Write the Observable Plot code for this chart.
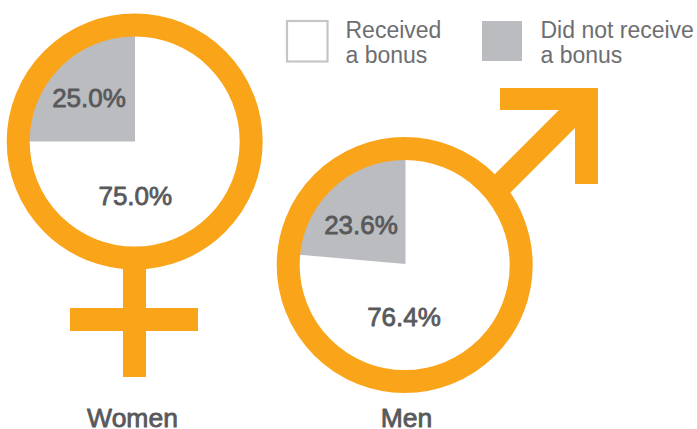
<!DOCTYPE html>
<html>
<head>
<meta charset="utf-8">
<style>html,body{margin:0;padding:0;background:#fff}svg{display:block}</style>
<script src="https://cdn.jsdelivr.net/npm/d3@7"></script>
<script src="https://cdn.jsdelivr.net/npm/@observablehq/plot@0.6"></script>
</head>
<body>
<script>
const groups = ["Women", "Men"];
const received = [75.0, 76.4];
const notReceived = [25.0, 23.6];
const legendLabels = [["Received", "a bonus"], ["Did not receive", "a bonus"]];

const orange = "#faa41a", gray = "#bbbcc0", dark = "#58595b", legendText = "#6d6e71";
const font = "'Liberation Sans', Arial, sans-serif";
const centers = [{x: 134.2, y: 141}, {x: 404.2, y: 264.5}];
const wedgeCenters = [{x: 134.5, y: 141}, {x: 405, y: 263.5}];
const ringR = 116.5, ringW = 23, innerR = 106;

const wedges = notReceived.flatMap((v, i) => {
  const c = wedgeCenters[i], pts = [{g: groups[i], x: c.x, y: c.y}];
  const steps = 60;
  for (let k = 0; k <= steps; k++) {
    const a = -2 * Math.PI * (v / 100) * (1 - k / steps);
    pts.push({g: groups[i], x: c.x + innerR * Math.sin(a), y: c.y - innerR * Math.cos(a)});
  }
  return pts;
});

const rects = [
  {x1: 123, x2: 146, y1: 262, y2: 377},
  {x1: 70, x2: 198, y1: 308, y2: 331},
  {x1: 500, x2: 598, y1: 88, y2: 110},
  {x1: 575, x2: 598, y1: 88, y2: 184},
  {x1: 482, x2: 522, y1: 21, y2: 61, fill: gray}
];
const shaft = [{x: 490, y: 178}, {x: 558, y: 110}, {x: 558, y: 105}, {x: 580, y: 105}, {x: 580, y: 122}, {x: 507, y: 195}];

const pctLabels = [
  {t: notReceived[0].toFixed(1) + "%", x: 88.5, y: 106},
  {t: received[0].toFixed(1) + "%", x: 134.8, y: 204},
  {t: notReceived[1].toFixed(1) + "%", x: 360.5, y: 233},
  {t: received[1].toFixed(1) + "%", x: 403.5, y: 325}
];
const nameLabels = [
  {t: groups[0], x: 132, y: 426.5},
  {t: groups[1], x: 406, y: 426.5}
];
const legendLines = [
  {t: legendLabels[0][0], x: 345, y: 37},
  {t: legendLabels[0][1], x: 345, y: 62},
  {t: legendLabels[1][0], x: 540, y: 37},
  {t: legendLabels[1][1], x: 540, y: 62}
];

const chart = Plot.plot({
  width: 697, height: 429,
  marginTop: 0, marginRight: 0, marginBottom: 0, marginLeft: 0,
  x: {domain: [0, 697], range: [0, 697], axis: null},
  y: {domain: [0, 429], range: [0, 429], axis: null},
  style: {background: "#fff", fontFamily: font},
  marks: [
    Plot.line(wedges, {x: "x", y: "y", z: "g", fill: gray, stroke: "none", curve: "linear-closed"}),
    Plot.dot(centers, {x: "x", y: "y", r: ringR, stroke: orange, strokeWidth: ringW, fill: "none"}),
    Plot.rect(rects.slice(0, 4), {x1: "x1", x2: "x2", y1: "y1", y2: "y2", fill: orange}),
    Plot.line(shaft, {x: "x", y: "y", fill: orange, stroke: "none", curve: "linear-closed"}),
    Plot.rect([rects[4]], {x1: "x1", x2: "x2", y1: "y1", y2: "y2", fill: gray}),
    Plot.rect([{x1: 287, x2: 327.5, y1: 21, y2: 61.5}], {x1: "x1", x2: "x2", y1: "y1", y2: "y2", fill: "#fff", stroke: "#c4c5c9", strokeWidth: 2.2}),
    Plot.text(pctLabels, {x: "x", y: "y", text: "t", fontSize: 26, fill: dark, stroke: dark, strokeWidth: 0.8, lineAnchor: "bottom", textAnchor: "middle"}),
    Plot.text(nameLabels, {x: "x", y: "y", text: "t", fontSize: 26.5, fill: dark, stroke: dark, strokeWidth: 0.8, lineAnchor: "bottom", textAnchor: "middle"}),
    Plot.text(legendLines, {x: "x", y: "y", text: "t", fontSize: 23, fill: legendText, lineAnchor: "bottom", textAnchor: "start"})
  ]
});
document.body.appendChild(chart);
</script>
</body>
</html>
